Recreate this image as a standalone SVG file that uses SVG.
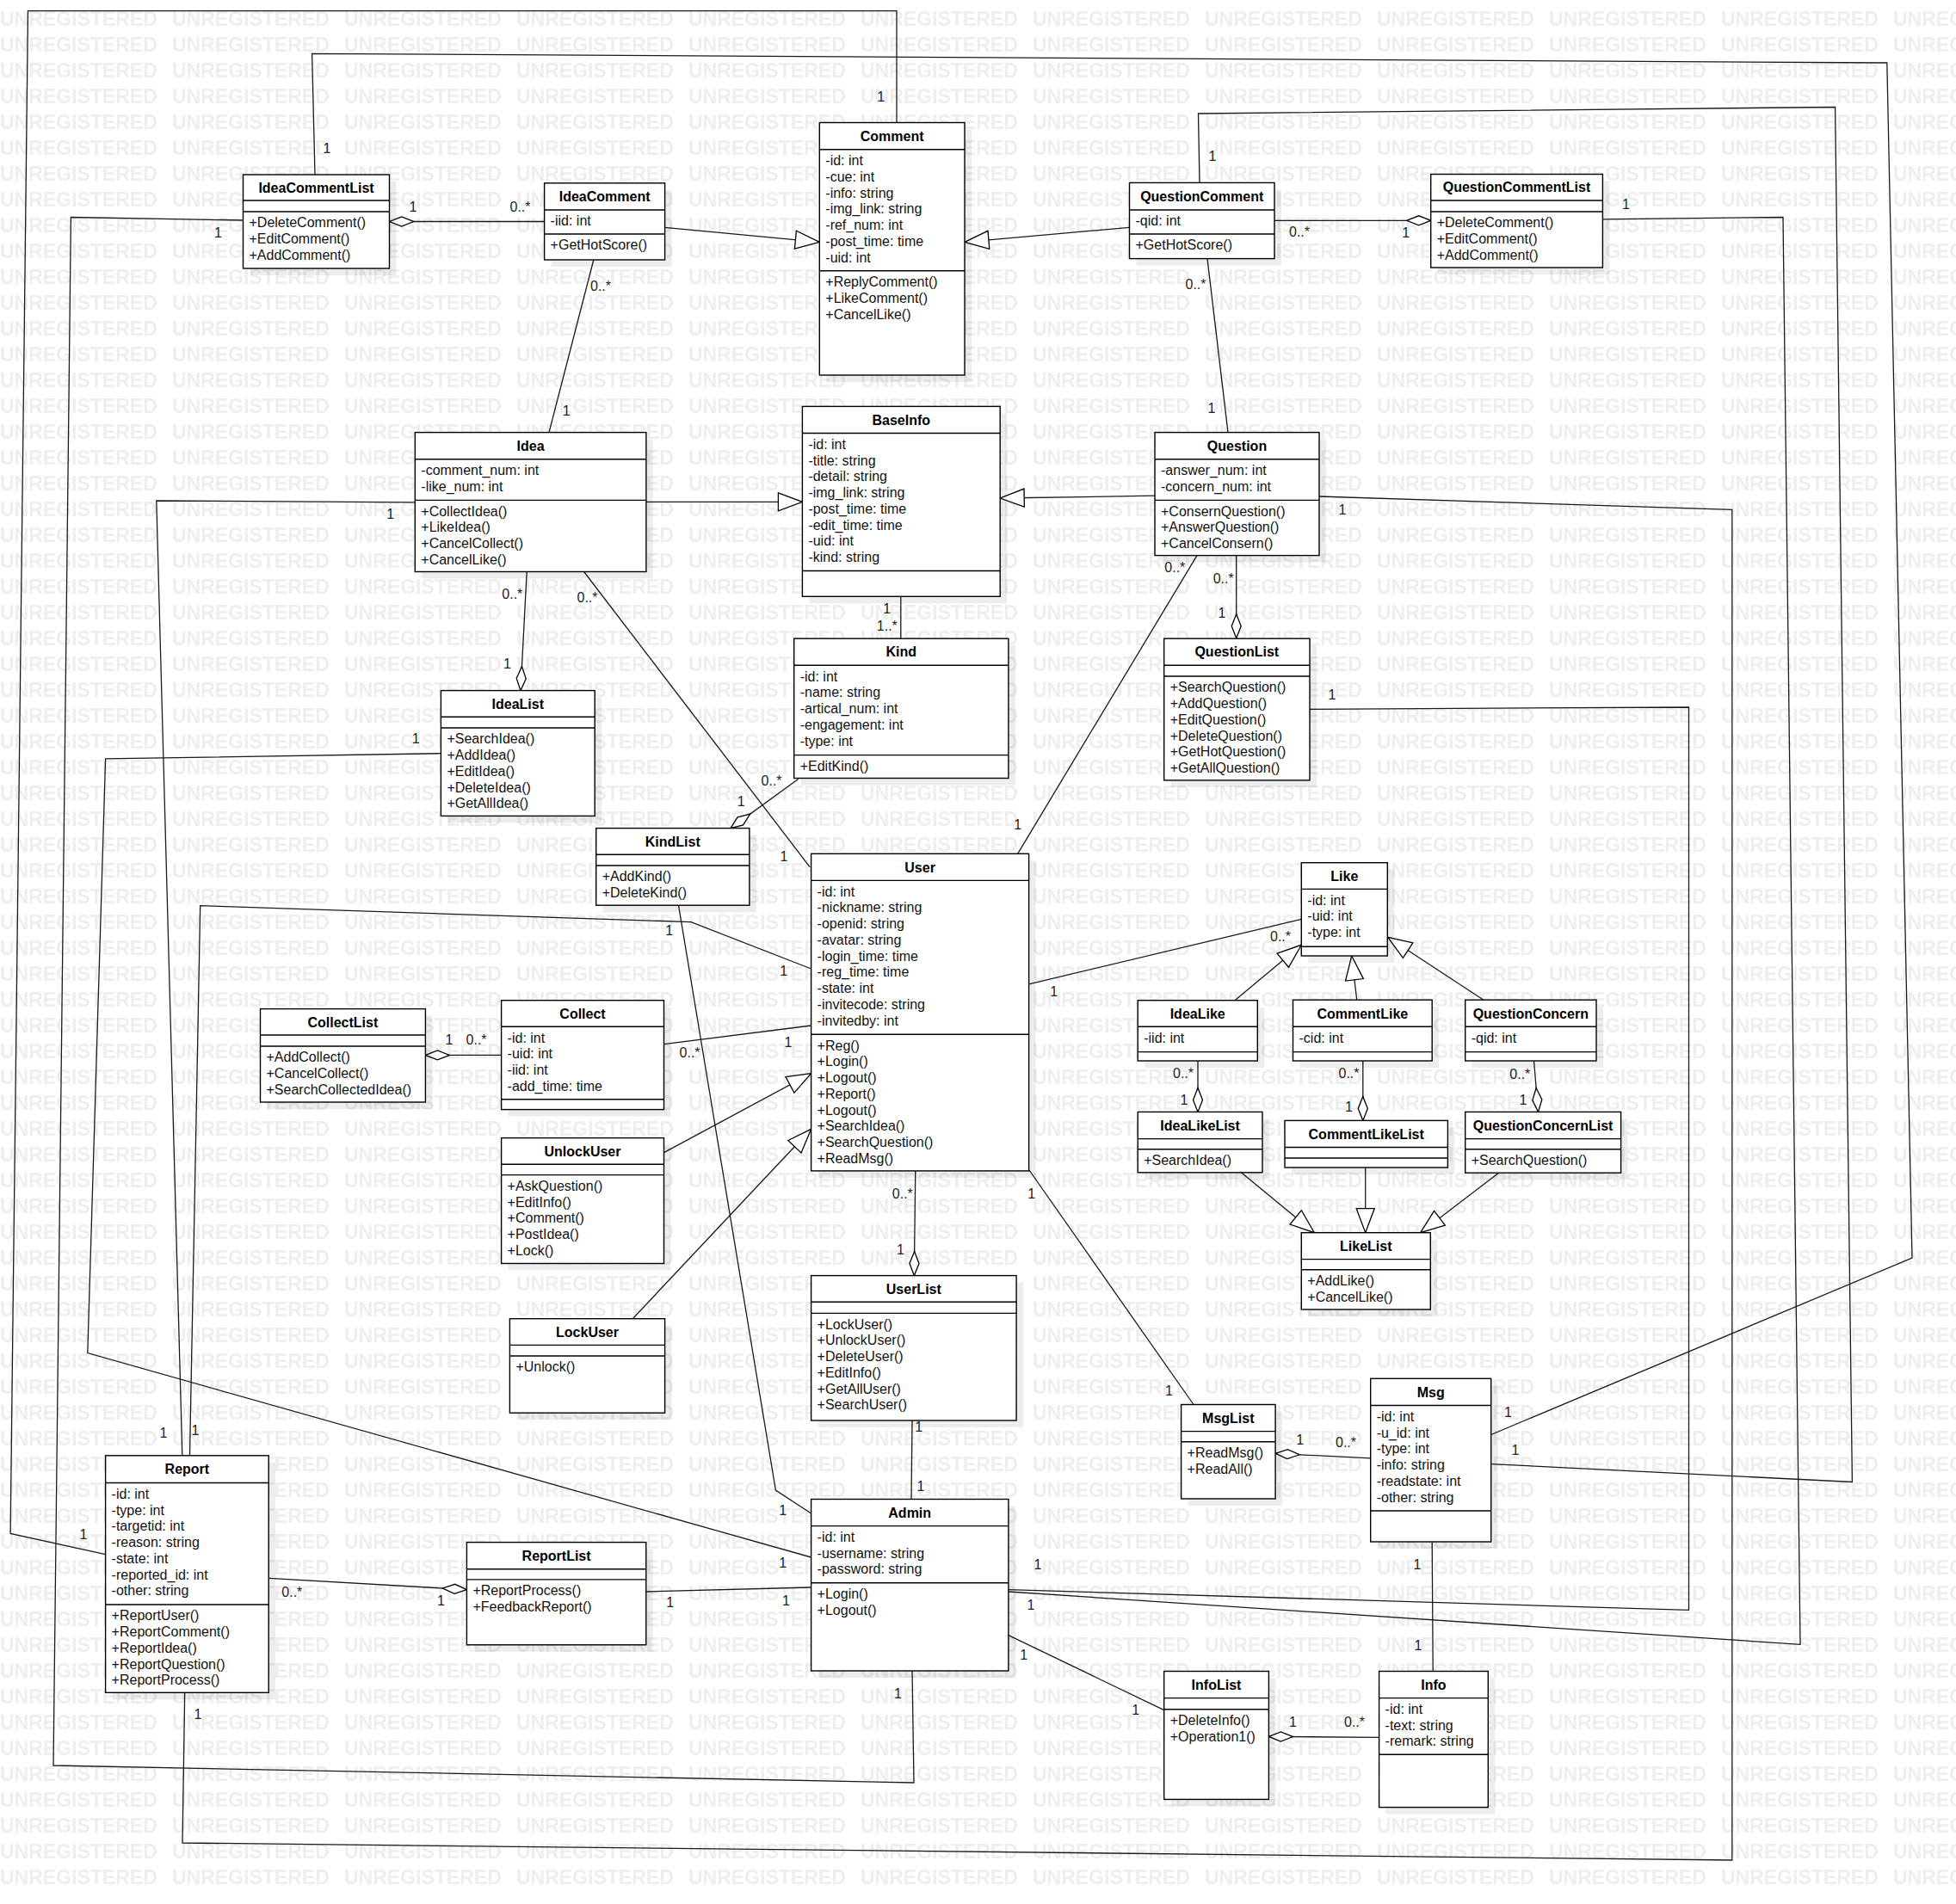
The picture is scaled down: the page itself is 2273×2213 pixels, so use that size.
<svg xmlns="http://www.w3.org/2000/svg" width="2273" height="2213" viewBox="0 0 2273 2213">
<style>
.bx{fill:#fff;stroke:#000;stroke-width:1.4}
.sh{fill:#000;fill-opacity:0.07}
.sp{stroke:#000;stroke-width:1.4}
.t{font-family:"Liberation Sans",Arial,sans-serif;font-size:16px;font-weight:bold;text-anchor:middle;fill:#000}
.a{font-family:"Liberation Sans",Arial,sans-serif;font-size:16px;fill:#111}
.c{fill:none;stroke:#1a1a1a;stroke-width:1.3}
.m{font-family:"Liberation Sans",Arial,sans-serif;font-size:16px;text-anchor:middle;fill:#222}
.wm{font-family:"Liberation Sans",Arial,sans-serif;font-size:23px;font-weight:bold;fill:#eeeeee}
</style>
<defs>
<pattern id="wmp" patternUnits="userSpaceOnUse" x="0" y="0" width="200" height="30"><text class="wm" x="0" y="30">UNREGISTERED</text></pattern>
<marker id="gen" markerUnits="userSpaceOnUse" markerWidth="30" markerHeight="23" refX="28" refY="11" orient="auto" overflow="visible"><path d="M0,0.5 L28,11 L0,21.5 Z" fill="#fff" stroke="#000" stroke-width="1.3"/></marker>
<marker id="agg" markerUnits="userSpaceOnUse" markerWidth="30" markerHeight="12" refX="0" refY="6" orient="auto" overflow="visible"><path d="M0,6 L14,0.5 L28,6 L14,11.5 Z" fill="#fff" stroke="#000" stroke-width="1.3"/></marker>
</defs>
<rect x="0" y="0" width="2273" height="2213" fill="#fff"/>
<rect x="0" y="0" width="2273" height="2190" fill="url(#wmp)"/>

<g id="connectors">
<path class="c" marker-end="url(#gen)" d="M772.5,264.3 L952.3,281.3"/>
<path class="c" marker-end="url(#gen)" d="M1312.5,264.3 L1121,281.3"/>
<path class="c" marker-end="url(#gen)" d="M750.9,583.3 L932.4,583.3"/>
<path class="c" marker-end="url(#gen)" d="M1342,576.2 L1162.2,579"/>
<path class="c" marker-end="url(#gen)" d="M771.5,1339.6 L942.6,1247.6"/>
<path class="c" marker-end="url(#gen)" d="M735.3,1532.7 L942.6,1312.3"/>
<path class="c" marker-end="url(#gen)" d="M1435,1162.7 L1512.3,1098.3"/>
<path class="c" marker-end="url(#gen)" d="M1576.7,1162.2 L1570.7,1111"/>
<path class="c" marker-end="url(#gen)" d="M1724,1162.2 L1612.7,1089.3"/>
<path class="c" marker-end="url(#gen)" d="M1442.7,1363 L1527.3,1432.7"/>
<path class="c" marker-end="url(#gen)" d="M1586.7,1357 L1586.7,1432.7"/>
<path class="c" marker-end="url(#gen)" d="M1741.6,1363.2 L1650.7,1432.7"/>

<path class="c" marker-start="url(#agg)" d="M452.7,257.5 L632.6,257.5"/>
<path class="c" marker-start="url(#agg)" d="M1662.7,256.3 L1481,256.3"/>
<path class="c" marker-start="url(#agg)" d="M605,802.6 L612.2,664.5"/>
<path class="c" marker-start="url(#agg)" d="M1436.7,741.7 L1436.7,645.7"/>
<path class="c" marker-start="url(#agg)" d="M849,962.6 L927.6,905.5"/>
<path class="c" marker-start="url(#agg)" d="M494.4,1226.4 L582.6,1226.4"/>
<path class="c" marker-start="url(#agg)" d="M1062.3,1482.6 L1063.8,1360.9"/>
<path class="c" marker-start="url(#agg)" d="M1392,1292.4 L1392,1233"/>
<path class="c" marker-start="url(#agg)" d="M1583.8,1302.4 L1583.8,1233"/>
<path class="c" marker-start="url(#agg)" d="M1787.5,1292.4 L1782.5,1233"/>
<path class="c" marker-start="url(#agg)" d="M1482.1,1689.4 L1592.7,1694.8"/>
<path class="c" marker-start="url(#agg)" d="M1474.4,2018.4 L1602.6,2019.3"/>
<path class="c" marker-start="url(#agg)" d="M542.4,1847.6 L312.6,1834.4"/>

<path class="c" d="M689.8,302 L638,502.6"/>
<path class="c" d="M1403,300.6 L1427,502.6"/>
<path class="c" d="M1046.8,693.3 L1046.8,742.2"/>
<path class="c" d="M678.6,664.5 L941.2,1007.9"/>
<path class="c" d="M1391,645.6 L1182.6,992.3"/>
<path class="c" d="M1195.6,1143.8 L1512.3,1068.3"/>
<path class="c" d="M771.5,1213.6 L942.6,1192"/>
<path class="c" d="M1195.6,1359.5 L1387,1632.5"/>
<path class="c" d="M1060,1651 L1059,1742.5"/>
<path class="c" d="M1664.2,1792 L1665.2,1942.5"/>
<path class="c" d="M1171.9,1900.6 L1352.7,1987.7"/>
<path class="c" d="M750.8,1850 L942.6,1845"/>
<path class="c" d="M788.5,1052.2 L901.4,1732 L942.6,1759"/>
<path class="c" d="M122.6,1806.7 L12.1,1782.4 L32.5,12.7 L1042,12.7 L1042,142.5"/>
<path class="c" d="M366,203 L362.6,62.3 L2192.8,73 L2222,1462 L1732.7,1667.5"/>
<path class="c" d="M1394,212.4 L1392.5,132 L2132.6,124.5 L2152.4,1722.5 L1732.7,1701.6"/>
<path class="c" d="M1862.4,254.8 L2072,252.5 L2092,1911.3 L1171.9,1850"/>
<path class="c" d="M1522,824.3 L1962.5,822 L1962.5,1871.4 L1171.9,1847.6"/>
<path class="c" d="M1533,577 L2012.8,592.3 L2012.8,2162 L212,2142 L214.7,1967.3"/>
<path class="c" d="M282.6,256 L82.4,252.5 L62,2052 L1062,2072 L1060,1942"/>
<path class="c" d="M482.3,583.8 L181.8,582 L211.8,1691.8"/>
<path class="c" d="M942.6,1126 L803,1071.6 L232.7,1052.7 L220.5,1691.8"/>
<path class="c" d="M512.4,875.7 L122.6,881.9 L101.8,1572.6 L942.6,1810"/>

<text class="m" x="1023.6" y="117.7">1</text><text class="m" x="97" y="1788.7">1</text>
<text class="m" x="380" y="177.7">1</text><text class="m" x="1752.5" y="1646.7">1</text>
<text class="m" x="1409" y="186.7">1</text><text class="m" x="1761" y="1691.2">1</text>
<text class="m" x="480" y="246.4">1</text><text class="m" x="604.5" y="246.4">0..*</text>
<text class="m" x="1510" y="275.2">0..*</text><text class="m" x="1633.6" y="275.7">1</text>
<text class="m" x="1889.5" y="243.1">1</text><text class="m" x="1198" y="1870.7">1</text>
<text class="m" x="698" y="337.7">0..*</text><text class="m" x="658.3" y="483.3">1</text>
<text class="m" x="1389.5" y="336">0..*</text><text class="m" x="1408" y="480.4">1</text>
<text class="m" x="253.5" y="276.1">1</text><text class="m" x="1043.4" y="1973.7">1</text>
<text class="m" x="453.7" y="602.7">1</text><text class="m" x="190" y="1670.7">1</text>
<text class="m" x="1560" y="597.7">1</text><text class="m" x="230" y="1998.3">1</text>
<text class="m" x="1030.8" y="712.7">1</text><text class="m" x="1030.8" y="732.9">1..*</text>
<text class="m" x="595.3" y="696.1">0..*</text><text class="m" x="589.4" y="776.7">1</text>
<text class="m" x="682.5" y="700.4">0..*</text><text class="m" x="911" y="1000.7">1</text>
<text class="m" x="1365.3" y="665.4">0..*</text><text class="m" x="1182.6" y="964">1</text>
<text class="m" x="1421.7" y="678">0..*</text><text class="m" x="1420" y="718.4">1</text>
<text class="m" x="1548" y="812.7">1</text><text class="m" x="1206" y="1823.7">1</text>
<text class="m" x="896.6" y="913">0..*</text><text class="m" x="861.2" y="936.7">1</text>
<text class="m" x="483.3" y="863.7">1</text><text class="m" x="909.7" y="1821.7">1</text>
<text class="m" x="910.6" y="1133.7">1</text><text class="m" x="227" y="1668.3">1</text>
<text class="m" x="777.8" y="1086.7">1</text><text class="m" x="909.7" y="1760.7">1</text>
<text class="m" x="1224.7" y="1157.5">1</text><text class="m" x="1488" y="1093.7">0..*</text>
<text class="m" x="801.6" y="1229.2">0..*</text><text class="m" x="916" y="1216.5">1</text>
<text class="m" x="522" y="1214.1">1</text><text class="m" x="553.6" y="1214.1">0..*</text>
<text class="m" x="1375" y="1252.7">0..*</text><text class="m" x="1376" y="1283.5">1</text>
<text class="m" x="1567.5" y="1252.7">0..*</text><text class="m" x="1567.5" y="1292">1</text>
<text class="m" x="1766.3" y="1253.7">0..*</text><text class="m" x="1770" y="1283.5">1</text>
<text class="m" x="1048.8" y="1392.5">0..*</text><text class="m" x="1046.4" y="1458.1">1</text>
<text class="m" x="1198.6" y="1392.5">1</text><text class="m" x="1358.5" y="1622.1">1</text>
<text class="m" x="1067.7" y="1663.5">1</text><text class="m" x="1070" y="1733.1">1</text>
<text class="m" x="1510.8" y="1678.6">1</text><text class="m" x="1564" y="1682">0..*</text>
<text class="m" x="1647" y="1824.1">1</text><text class="m" x="1648" y="1918">1</text>
<text class="m" x="1502.5" y="2007">1</text><text class="m" x="1574" y="2007">0..*</text>
<text class="m" x="1189.8" y="1928.7">1</text><text class="m" x="1319.7" y="1992.9">1</text>
<text class="m" x="778.8" y="1868.3">1</text><text class="m" x="913.5" y="1865.7">1</text>
<text class="m" x="339.3" y="1855.7">0..*</text><text class="m" x="512.4" y="1865.7">1</text>
</g>

<g id="IdeaCommentList"><rect class="sh" x="290.5" y="211" width="170" height="109"/><rect class="bx" x="282.5" y="203" width="170" height="109"/><line class="sp" x1="282.5" y1="233" x2="452.5" y2="233"/><line class="sp" x1="282.5" y1="246" x2="452.5" y2="246"/><text class="t" x="367.5" y="223.7">IdeaCommentList</text><text class="a"><tspan x="289.5" y="264.3">+DeleteComment()</tspan><tspan x="289.5" dy="18.75">+EditComment()</tspan><tspan x="289.5" dy="18.75">+AddComment()</tspan></text></g>

<g id="IdeaComment"><rect class="sh" x="640.6" y="220.8" width="140" height="89.2"/><rect class="bx" x="632.6" y="212.8" width="140" height="89.2"/><line class="sp" x1="632.6" y1="244" x2="772.6" y2="244"/><line class="sp" x1="632.6" y1="272" x2="772.6" y2="272"/><text class="t" x="702.6" y="234.1">IdeaComment</text><text class="a" x="639.6" y="262.3">-iid: int</text><text class="a" x="639.6" y="290.3">+GetHotScore()</text></g>

<g id="Comment"><rect class="sh" x="960.3" y="150.5" width="168.7" height="293.5"/><rect class="bx" x="952.3" y="142.5" width="168.7" height="293.5"/><line class="sp" x1="952.3" y1="173.7" x2="1121" y2="173.7"/><line class="sp" x1="952.3" y1="314.8" x2="1121" y2="314.8"/><text class="t" x="1036.6" y="163.8">Comment</text><text class="a"><tspan x="959.3" y="192">-id: int</tspan><tspan x="959.3" dy="18.75">-cue: int</tspan><tspan x="959.3" dy="18.75">-info: string</tspan><tspan x="959.3" dy="18.75">-img_link: string</tspan><tspan x="959.3" dy="18.75">-ref_num: int</tspan><tspan x="959.3" dy="18.75">-post_time: time</tspan><tspan x="959.3" dy="18.75">-uid: int</tspan></text><text class="a"><tspan x="959.3" y="333.1">+ReplyComment()</tspan><tspan x="959.3" dy="18.75">+LikeComment()</tspan><tspan x="959.3" dy="18.75">+CancelLike()</tspan></text></g>

<g id="QuestionComment"><rect class="sh" x="1320.5" y="220.4" width="168.5" height="88.2"/><rect class="bx" x="1312.5" y="212.4" width="168.5" height="88.2"/><line class="sp" x1="1312.5" y1="244" x2="1481" y2="244"/><line class="sp" x1="1312.5" y1="272" x2="1481" y2="272"/><text class="t" x="1396.7" y="233.9">QuestionComment</text><text class="a" x="1319.5" y="262.3">-qid: int</text><text class="a" x="1319.5" y="290.3">+GetHotScore()</text></g>

<g id="QuestionCommentList"><rect class="sh" x="1670.7" y="210.5" width="199.7" height="108.5"/><rect class="bx" x="1662.7" y="202.5" width="199.7" height="108.5"/><line class="sp" x1="1662.7" y1="233" x2="1862.4" y2="233"/><line class="sp" x1="1662.7" y1="246" x2="1862.4" y2="246"/><text class="t" x="1762.5" y="223.4">QuestionCommentList</text><text class="a"><tspan x="1669.7" y="264.3">+DeleteComment()</tspan><tspan x="1669.7" dy="18.75">+EditComment()</tspan><tspan x="1669.7" dy="18.75">+AddComment()</tspan></text></g>

<g id="Idea"><rect class="sh" x="490.3" y="510.6" width="268.6" height="161.9"/><rect class="bx" x="482.3" y="502.6" width="268.6" height="161.9"/><line class="sp" x1="482.3" y1="533.7" x2="750.9" y2="533.7"/><line class="sp" x1="482.3" y1="581.4" x2="750.9" y2="581.4"/><text class="t" x="616.6" y="523.8">Idea</text><text class="a"><tspan x="489.3" y="552">-comment_num: int</tspan><tspan x="489.3" dy="18.75">-like_num: int</tspan></text><text class="a"><tspan x="489.3" y="599.7">+CollectIdea()</tspan><tspan x="489.3" dy="18.75">+LikeIdea()</tspan><tspan x="489.3" dy="18.75">+CancelCollect()</tspan><tspan x="489.3" dy="18.75">+CancelLike()</tspan></text></g>

<g id="BaseInfo"><rect class="sh" x="940.4" y="480.4" width="229.8" height="220.9"/><rect class="bx" x="932.4" y="472.4" width="229.8" height="220.9"/><line class="sp" x1="932.4" y1="503.5" x2="1162.2" y2="503.5"/><line class="sp" x1="932.4" y1="663.5" x2="1162.2" y2="663.5"/><text class="t" x="1047.3" y="493.6">BaseInfo</text><text class="a"><tspan x="939.4" y="521.8">-id: int</tspan><tspan x="939.4" dy="18.75">-title: string</tspan><tspan x="939.4" dy="18.75">-detail: string</tspan><tspan x="939.4" dy="18.75">-img_link: string</tspan><tspan x="939.4" dy="18.75">-post_time: time</tspan><tspan x="939.4" dy="18.75">-edit_time: time</tspan><tspan x="939.4" dy="18.75">-uid: int</tspan><tspan x="939.4" dy="18.75">-kind: string</tspan></text></g>

<g id="Question"><rect class="sh" x="1350" y="510.6" width="191" height="143"/><rect class="bx" x="1342" y="502.6" width="191" height="143"/><line class="sp" x1="1342" y1="533.7" x2="1533" y2="533.7"/><line class="sp" x1="1342" y1="581.4" x2="1533" y2="581.4"/><text class="t" x="1437.5" y="523.8">Question</text><text class="a"><tspan x="1349" y="552">-answer_num: int</tspan><tspan x="1349" dy="18.75">-concern_num: int</tspan></text><text class="a"><tspan x="1349" y="599.7">+ConsernQuestion()</tspan><tspan x="1349" dy="18.75">+AnswerQuestion()</tspan><tspan x="1349" dy="18.75">+CancelConsern()</tspan></text></g>

<g id="Kind"><rect class="sh" x="930.7" y="750.2" width="249.2" height="162.3"/><rect class="bx" x="922.7" y="742.2" width="249.2" height="162.3"/><line class="sp" x1="922.7" y1="773.3" x2="1171.9" y2="773.3"/><line class="sp" x1="922.7" y1="877.6" x2="1171.9" y2="877.6"/><text class="t" x="1047.3" y="763.4">Kind</text><text class="a"><tspan x="929.7" y="791.6">-id: int</tspan><tspan x="929.7" dy="18.75">-name: string</tspan><tspan x="929.7" dy="18.75">-artical_num: int</tspan><tspan x="929.7" dy="18.75">-engagement: int</tspan><tspan x="929.7" dy="18.75">-type: int</tspan></text><text class="a" x="929.7" y="895.9">+EditKind()</text></g>

<g id="QuestionList"><rect class="sh" x="1360.7" y="750.2" width="169.3" height="164.7"/><rect class="bx" x="1352.7" y="742.2" width="169.3" height="164.7"/><line class="sp" x1="1352.7" y1="773.3" x2="1522" y2="773.3"/><line class="sp" x1="1352.7" y1="786" x2="1522" y2="786"/><text class="t" x="1437.3" y="763.4">QuestionList</text><text class="a"><tspan x="1359.7" y="804.3">+SearchQuestion()</tspan><tspan x="1359.7" dy="18.75">+AddQuestion()</tspan><tspan x="1359.7" dy="18.75">+EditQuestion()</tspan><tspan x="1359.7" dy="18.75">+DeleteQuestion()</tspan><tspan x="1359.7" dy="18.75">+GetHotQuestion()</tspan><tspan x="1359.7" dy="18.75">+GetAllQuestion()</tspan></text></g>

<g id="IdeaList"><rect class="sh" x="520.4" y="810.6" width="178.8" height="145.8"/><rect class="bx" x="512.4" y="802.6" width="178.8" height="145.8"/><line class="sp" x1="512.4" y1="833.3" x2="691.2" y2="833.3"/><line class="sp" x1="512.4" y1="846" x2="691.2" y2="846"/><text class="t" x="601.8" y="823.6">IdeaList</text><text class="a"><tspan x="519.4" y="864.3">+SearchIdea()</tspan><tspan x="519.4" dy="18.75">+AddIdea()</tspan><tspan x="519.4" dy="18.75">+EditIdea()</tspan><tspan x="519.4" dy="18.75">+DeleteIdea()</tspan><tspan x="519.4" dy="18.75">+GetAllIdea()</tspan></text></g>

<g id="KindList"><rect class="sh" x="700.7" y="970.6" width="178.2" height="89.6"/><rect class="bx" x="692.7" y="962.6" width="178.2" height="89.6"/><line class="sp" x1="692.7" y1="993.2" x2="870.9" y2="993.2"/><line class="sp" x1="692.7" y1="1006" x2="870.9" y2="1006"/><text class="t" x="781.8" y="983.6">KindList</text><text class="a"><tspan x="699.7" y="1024.3">+AddKind()</tspan><tspan x="699.7" dy="18.75">+DeleteKind()</tspan></text></g>

<g id="User"><rect class="sh" x="950.6" y="1000.3" width="253" height="368.6"/><rect class="bx" x="942.6" y="992.3" width="253" height="368.6"/><line class="sp" x1="942.6" y1="1023.4" x2="1195.6" y2="1023.4"/><line class="sp" x1="942.6" y1="1202.3" x2="1195.6" y2="1202.3"/><text class="t" x="1069.1" y="1013.5">User</text><text class="a"><tspan x="949.6" y="1041.7">-id: int</tspan><tspan x="949.6" dy="18.75">-nickname: string</tspan><tspan x="949.6" dy="18.75">-openid: string</tspan><tspan x="949.6" dy="18.75">-avatar: string</tspan><tspan x="949.6" dy="18.75">-login_time: time</tspan><tspan x="949.6" dy="18.75">-reg_time: time</tspan><tspan x="949.6" dy="18.75">-state: int</tspan><tspan x="949.6" dy="18.75">-invitecode: string</tspan><tspan x="949.6" dy="18.75">-invitedby: int</tspan></text><text class="a"><tspan x="949.6" y="1220.6">+Reg()</tspan><tspan x="949.6" dy="18.75">+Login()</tspan><tspan x="949.6" dy="18.75">+Logout()</tspan><tspan x="949.6" dy="18.75">+Report()</tspan><tspan x="949.6" dy="18.75">+Logout()</tspan><tspan x="949.6" dy="18.75">+SearchIdea()</tspan><tspan x="949.6" dy="18.75">+SearchQuestion()</tspan><tspan x="949.6" dy="18.75">+ReadMsg()</tspan></text></g>

<g id="Like"><rect class="sh" x="1520.3" y="1010.7" width="100" height="108.3"/><rect class="bx" x="1512.3" y="1002.7" width="100" height="108.3"/><line class="sp" x1="1512.3" y1="1033.4" x2="1612.3" y2="1033.4"/><line class="sp" x1="1512.3" y1="1100.3" x2="1612.3" y2="1100.3"/><text class="t" x="1562.3" y="1023.7">Like</text><text class="a"><tspan x="1519.3" y="1051.7">-id: int</tspan><tspan x="1519.3" dy="18.75">-uid: int</tspan><tspan x="1519.3" dy="18.75">-type: int</tspan></text></g>

<g id="CollectList"><rect class="sh" x="310.5" y="1180.6" width="191.9" height="108.4"/><rect class="bx" x="302.5" y="1172.6" width="191.9" height="108.4"/><line class="sp" x1="302.5" y1="1203" x2="494.4" y2="1203"/><line class="sp" x1="302.5" y1="1216" x2="494.4" y2="1216"/><text class="t" x="398.4" y="1193.5">CollectList</text><text class="a"><tspan x="309.5" y="1234.3">+AddCollect()</tspan><tspan x="309.5" dy="18.75">+CancelCollect()</tspan><tspan x="309.5" dy="18.75">+SearchCollectedIdea()</tspan></text></g>

<g id="Collect"><rect class="sh" x="590.6" y="1170.7" width="188.9" height="126.9"/><rect class="bx" x="582.6" y="1162.7" width="188.9" height="126.9"/><line class="sp" x1="582.6" y1="1193.3" x2="771.5" y2="1193.3"/><line class="sp" x1="582.6" y1="1277.8" x2="771.5" y2="1277.8"/><text class="t" x="677" y="1183.7">Collect</text><text class="a"><tspan x="589.6" y="1211.6">-id: int</tspan><tspan x="589.6" dy="18.75">-uid: int</tspan><tspan x="589.6" dy="18.75">-iid: int</tspan><tspan x="589.6" dy="18.75">-add_time: time</tspan></text></g>

<g id="IdeaLike"><rect class="sh" x="1330.2" y="1170.7" width="139.1" height="70.3"/><rect class="bx" x="1322.2" y="1162.7" width="139.1" height="70.3"/><line class="sp" x1="1322.2" y1="1193.3" x2="1461.3" y2="1193.3"/><line class="sp" x1="1322.2" y1="1222.6" x2="1461.3" y2="1222.6"/><text class="t" x="1391.7" y="1183.7">IdeaLike</text><text class="a" x="1329.2" y="1211.6">-iid: int</text></g>

<g id="CommentLike"><rect class="sh" x="1510.5" y="1170.2" width="161.7" height="70.8"/><rect class="bx" x="1502.5" y="1162.2" width="161.7" height="70.8"/><line class="sp" x1="1502.5" y1="1193.3" x2="1664.2" y2="1193.3"/><line class="sp" x1="1502.5" y1="1222.6" x2="1664.2" y2="1222.6"/><text class="t" x="1583.3" y="1183.5">CommentLike</text><text class="a" x="1509.5" y="1211.6">-cid: int</text></g>

<g id="QuestionConcern"><rect class="sh" x="1710.7" y="1170.2" width="152.3" height="70.8"/><rect class="bx" x="1702.7" y="1162.2" width="152.3" height="70.8"/><line class="sp" x1="1702.7" y1="1193.3" x2="1855" y2="1193.3"/><line class="sp" x1="1702.7" y1="1222.6" x2="1855" y2="1222.6"/><text class="t" x="1778.8" y="1183.5">QuestionConcern</text><text class="a" x="1709.7" y="1211.6">-qid: int</text></g>

<g id="IdeaLikeList"><rect class="sh" x="1330.2" y="1300.4" width="144.8" height="70.4"/><rect class="bx" x="1322.2" y="1292.4" width="144.8" height="70.4"/><line class="sp" x1="1322.2" y1="1323.6" x2="1467" y2="1323.6"/><line class="sp" x1="1322.2" y1="1335.8" x2="1467" y2="1335.8"/><text class="t" x="1394.6" y="1313.7">IdeaLikeList</text><text class="a" x="1329.2" y="1354.1">+SearchIdea()</text></g>

<g id="CommentLikeList"><rect class="sh" x="1501" y="1310.4" width="189.4" height="54.6"/><rect class="bx" x="1493" y="1302.4" width="189.4" height="54.6"/><line class="sp" x1="1493" y1="1333.5" x2="1682.4" y2="1333.5"/><line class="sp" x1="1493" y1="1346" x2="1682.4" y2="1346"/><text class="t" x="1587.7" y="1323.6">CommentLikeList</text></g>

<g id="QuestionConcernList"><rect class="sh" x="1710.7" y="1300.4" width="180.9" height="70.8"/><rect class="bx" x="1702.7" y="1292.4" width="180.9" height="70.8"/><line class="sp" x1="1702.7" y1="1323.6" x2="1883.6" y2="1323.6"/><line class="sp" x1="1702.7" y1="1335.8" x2="1883.6" y2="1335.8"/><text class="t" x="1793.1" y="1313.7">QuestionConcernList</text><text class="a" x="1709.7" y="1354.1">+SearchQuestion()</text></g>

<g id="LikeList"><rect class="sh" x="1520.3" y="1440.7" width="150" height="89.3"/><rect class="bx" x="1512.3" y="1432.7" width="150" height="89.3"/><line class="sp" x1="1512.3" y1="1463.6" x2="1662.3" y2="1463.6"/><line class="sp" x1="1512.3" y1="1475.8" x2="1662.3" y2="1475.8"/><text class="t" x="1587.3" y="1453.8">LikeList</text><text class="a"><tspan x="1519.3" y="1494.1">+AddLike()</tspan><tspan x="1519.3" dy="18.75">+CancelLike()</tspan></text></g>

<g id="UnlockUser"><rect class="sh" x="590.6" y="1330.6" width="188.9" height="145.9"/><rect class="bx" x="582.6" y="1322.6" width="188.9" height="145.9"/><line class="sp" x1="582.6" y1="1353.3" x2="771.5" y2="1353.3"/><line class="sp" x1="582.6" y1="1365.6" x2="771.5" y2="1365.6"/><text class="t" x="677" y="1343.6">UnlockUser</text><text class="a"><tspan x="589.6" y="1383.9">+AskQuestion()</tspan><tspan x="589.6" dy="18.75">+EditInfo()</tspan><tspan x="589.6" dy="18.75">+Comment()</tspan><tspan x="589.6" dy="18.75">+PostIdea()</tspan><tspan x="589.6" dy="18.75">+Lock()</tspan></text></g>

<g id="UserList"><rect class="sh" x="950.6" y="1490.6" width="238.5" height="168.4"/><rect class="bx" x="942.6" y="1482.6" width="238.5" height="168.4"/><line class="sp" x1="942.6" y1="1513.3" x2="1181.1" y2="1513.3"/><line class="sp" x1="942.6" y1="1526.4" x2="1181.1" y2="1526.4"/><text class="t" x="1061.8" y="1503.6">UserList</text><text class="a"><tspan x="949.6" y="1544.7">+LockUser()</tspan><tspan x="949.6" dy="18.75">+UnlockUser()</tspan><tspan x="949.6" dy="18.75">+DeleteUser()</tspan><tspan x="949.6" dy="18.75">+EditInfo()</tspan><tspan x="949.6" dy="18.75">+GetAllUser()</tspan><tspan x="949.6" dy="18.75">+SearchUser()</tspan></text></g>

<g id="LockUser"><rect class="sh" x="600.4" y="1540.7" width="180.2" height="109.5"/><rect class="bx" x="592.4" y="1532.7" width="180.2" height="109.5"/><line class="sp" x1="592.4" y1="1563.4" x2="772.6" y2="1563.4"/><line class="sp" x1="592.4" y1="1576" x2="772.6" y2="1576"/><text class="t" x="682.5" y="1553.7">LockUser</text><text class="a" x="599.4" y="1594.3">+Unlock()</text></g>

<g id="MsgList"><rect class="sh" x="1380.6" y="1640.5" width="109.5" height="109.5"/><rect class="bx" x="1372.6" y="1632.5" width="109.5" height="109.5"/><line class="sp" x1="1372.6" y1="1663.6" x2="1482.1" y2="1663.6"/><line class="sp" x1="1372.6" y1="1675.8" x2="1482.1" y2="1675.8"/><text class="t" x="1427.3" y="1653.7">MsgList</text><text class="a"><tspan x="1379.6" y="1694.1">+ReadMsg()</tspan><tspan x="1379.6" dy="18.75">+ReadAll()</tspan></text></g>

<g id="Msg"><rect class="sh" x="1600.7" y="1610.3" width="140" height="189.7"/><rect class="bx" x="1592.7" y="1602.3" width="140" height="189.7"/><line class="sp" x1="1592.7" y1="1633.5" x2="1732.7" y2="1633.5"/><line class="sp" x1="1592.7" y1="1756" x2="1732.7" y2="1756"/><text class="t" x="1662.7" y="1623.6">Msg</text><text class="a"><tspan x="1599.7" y="1651.8">-id: int</tspan><tspan x="1599.7" dy="18.75">-u_id: int</tspan><tspan x="1599.7" dy="18.75">-type: int</tspan><tspan x="1599.7" dy="18.75">-info: string</tspan><tspan x="1599.7" dy="18.75">-readstate: int</tspan><tspan x="1599.7" dy="18.75">-other: string</tspan></text></g>

<g id="Report"><rect class="sh" x="130.6" y="1699.8" width="189.6" height="275.5"/><rect class="bx" x="122.6" y="1691.8" width="189.6" height="275.5"/><line class="sp" x1="122.6" y1="1723.5" x2="312.2" y2="1723.5"/><line class="sp" x1="122.6" y1="1865" x2="312.2" y2="1865"/><text class="t" x="217.4" y="1713.3">Report</text><text class="a"><tspan x="129.6" y="1741.8">-id: int</tspan><tspan x="129.6" dy="18.75">-type: int</tspan><tspan x="129.6" dy="18.75">-targetid: int</tspan><tspan x="129.6" dy="18.75">-reason: string</tspan><tspan x="129.6" dy="18.75">-state: int</tspan><tspan x="129.6" dy="18.75">-reported_id: int</tspan><tspan x="129.6" dy="18.75">-other: string</tspan></text><text class="a"><tspan x="129.6" y="1883.3">+ReportUser()</tspan><tspan x="129.6" dy="18.75">+ReportComment()</tspan><tspan x="129.6" dy="18.75">+ReportIdea()</tspan><tspan x="129.6" dy="18.75">+ReportQuestion()</tspan><tspan x="129.6" dy="18.75">+ReportProcess()</tspan></text></g>

<g id="ReportList"><rect class="sh" x="550.4" y="1800.6" width="208.4" height="119.2"/><rect class="bx" x="542.4" y="1792.6" width="208.4" height="119.2"/><line class="sp" x1="542.4" y1="1823.7" x2="750.8" y2="1823.7"/><line class="sp" x1="542.4" y1="1835.9" x2="750.8" y2="1835.9"/><text class="t" x="646.6" y="1813.8">ReportList</text><text class="a"><tspan x="549.4" y="1854.2">+ReportProcess()</tspan><tspan x="549.4" dy="18.75">+FeedbackReport()</tspan></text></g>

<g id="Admin"><rect class="sh" x="950.6" y="1750.5" width="229.3" height="199.5"/><rect class="bx" x="942.6" y="1742.5" width="229.3" height="199.5"/><line class="sp" x1="942.6" y1="1773.6" x2="1171.9" y2="1773.6"/><line class="sp" x1="942.6" y1="1839.8" x2="1171.9" y2="1839.8"/><text class="t" x="1057.2" y="1763.7">Admin</text><text class="a"><tspan x="949.6" y="1791.9">-id: int</tspan><tspan x="949.6" dy="18.75">-username: string</tspan><tspan x="949.6" dy="18.75">-password: string</tspan></text><text class="a"><tspan x="949.6" y="1858.1">+Login()</tspan><tspan x="949.6" dy="18.75">+Logout()</tspan></text></g>

<g id="InfoList"><rect class="sh" x="1360.7" y="1950.5" width="121.7" height="148.9"/><rect class="bx" x="1352.7" y="1942.5" width="121.7" height="148.9"/><line class="sp" x1="1352.7" y1="1973.6" x2="1474.4" y2="1973.6"/><line class="sp" x1="1352.7" y1="1986.7" x2="1474.4" y2="1986.7"/><text class="t" x="1413.5" y="1963.7">InfoList</text><text class="a"><tspan x="1359.7" y="2005">+DeleteInfo()</tspan><tspan x="1359.7" dy="18.75">+Operation1()</tspan></text></g>

<g id="Info"><rect class="sh" x="1610.6" y="1950.5" width="126.7" height="158.1"/><rect class="bx" x="1602.6" y="1942.5" width="126.7" height="158.1"/><line class="sp" x1="1602.6" y1="1973.6" x2="1729.3" y2="1973.6"/><line class="sp" x1="1602.6" y1="2039.3" x2="1729.3" y2="2039.3"/><text class="t" x="1665.9" y="1963.7">Info</text><text class="a"><tspan x="1609.6" y="1991.9">-id: int</tspan><tspan x="1609.6" dy="18.75">-text: string</tspan><tspan x="1609.6" dy="18.75">-remark: string</tspan></text></g>
</svg>
